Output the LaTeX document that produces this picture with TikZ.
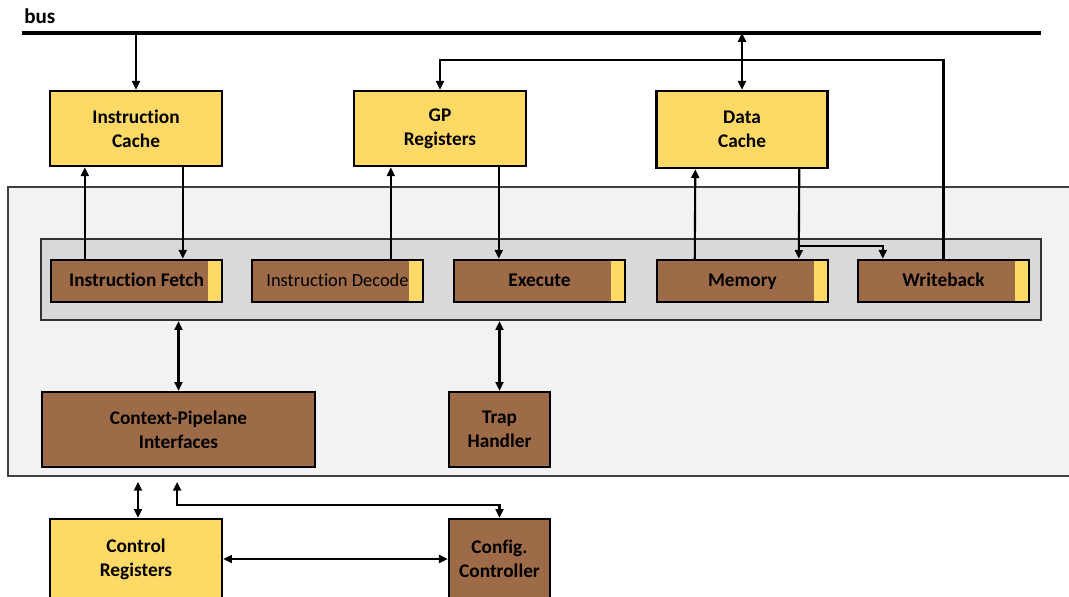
\documentclass[tikz,border=0pt]{standalone}
\usepackage{fontspec}
\setmainfont{Carlito}[Ligatures=NoCommon]
\usetikzlibrary{calc,arrows.meta}
\definecolor{yel}{HTML}{FFD966}
\definecolor{brn}{HTML}{9E6B48}
\definecolor{lgray}{HTML}{F2F2F2}
\definecolor{mgray}{HTML}{D9D9D9}
\tikzset{
 box/.style={draw=black, line width=1.4pt, inner sep=0pt, align=center, font=\bfseries\fontsize{11}{13.6}\selectfont},
 ybox/.style={box, fill=yel},
 bbox/.style={box, fill=brn},
 stagebox/.style={bbox, minimum width=3.42cm, minimum height=0.84cm, text height=0.66em, text depth=0em,
   path picture={\fill[yel] ($(path picture bounding box.north east)+(-0.28cm,0)$) rectangle (path picture bounding box.south east);}},
 arr/.style={line width=1.2pt, -{Triangle[length=5pt,width=4.5pt]}},
 darr/.style={line width=1.2pt, {Triangle[length=5pt,width=4.5pt]}-{Triangle[length=5pt,width=4.5pt]}},
}
\begin{document}
\begin{tikzpicture}[x=0.02cm,y=-0.02cm]
\useasboundingbox (0,0) rectangle (1069,596);
\clip (0,0) rectangle (1069,596);
\fill[white] (0,0) rectangle (1069,596);

% bus
\node[font=\bfseries\fontsize{12}{14}\selectfont, anchor=west, inner sep=0pt] (bus) at (24,16) {bus};
\coordinate (busL) at (22,33);
\coordinate (busR) at (1041,33);
\draw[line width=2.2pt] (busL) -- (busR);
\coordinate (fb) at (0,60);

% background boxes
\node[draw=black!75, line width=1.1pt, fill=lgray, minimum width=21.54cm, minimum height=5.78cm, inner sep=0pt] (outer) at (546.5,331.5) {};
\node[draw=black!80, line width=1.3pt, fill=mgray, minimum width=20cm, minimum height=1.62cm, inner sep=0pt] (pipe) at (541,279.5) {};

% top boxes
\node[ybox, minimum width=3.44cm, minimum height=1.5cm] (ic) at (136,128.5) {Instruction\\Cache};
\node[ybox, minimum width=3.44cm, minimum height=1.5cm] (gp) at (440,128.5) {GP\\Registers};
\node[ybox, minimum width=3.42cm, minimum height=1.54cm] (dc) at (742,129.5) {Data\\Cache};

% stages
\node[stagebox] (ifs) at (136.5,281) {Instruction Fetch};
\node[stagebox, font=\mdseries\fontsize{10.5}{12}\selectfont] (ids) at (337.5,281) {Instruction Decode};
\node[stagebox] (exs) at (539.5,281) {Execute};
\node[stagebox] (mems) at (742.5,281) {Memory};
\node[stagebox] (wbs) at (943.5,281) {Writeback};

% lower boxes
\node[bbox, minimum width=5.46cm, minimum height=1.5cm] (ctx) at (178.5,429.5) {Context-Pipelane\\Interfaces};
\node[bbox, minimum width=2.02cm, minimum height=1.5cm] (trap) at (499.5,429.5) {Trap\\Handler};
\node[ybox, minimum width=3.44cm, minimum height=1.6cm] (creg) at (136,559) {Control\\Registers};
\node[bbox, minimum width=2.02cm, minimum height=1.6cm] (cfg) at (499.5,559) {Config.\\Controller};

% connectors
\draw[arr] (ic.north |- busL) -- (ic.north);
\draw[darr] (dc.north |- busL) -- (dc.north);
\draw[arr] ($(ifs.north west)+(35,0)$) -- ($(ic.south west)+(36,0)$);
\draw[arr] ($(ic.south west)+(134,0)$) -- ($(ifs.north west)+(133,0)$);
\draw[arr] ($(ids.north west)+(140,0)$) -- ($(gp.south west)+(38,0)$);
\draw[arr] ($(gp.south west)+(146,0)$) -- ($(exs.north west)+(46,0)$);
\draw[arr] ($(mems.north west)+(39,0)$) -- ($(dc.south west)+(40,0)$);
\draw[arr] ($(dc.south west)+(144,0)$) -- ($(mems.north west)+(143,0)$);
\draw[arr] ($(mems.north west)+(143,-13)$) -| ($(wbs.north west)+(26,0)$);
\draw[arr] (wbs.north) |- (fb -| gp.north) -- (gp.north);

\draw[darr] (ctx.north |- pipe.south) -- (ctx.north);
\draw[darr] (trap.north |- pipe.south) -- (trap.north);
\draw[darr] ($(creg.north |- outer.south)+(2,5)$) -- ($(creg.north)+(2,0)$);
\draw[darr] ($(outer.south west)+(170,5)$) |- ($(cfg.north)+(0,-13)$) -- (cfg.north);
\draw[darr] (creg.east) -- (cfg.west);
\end{tikzpicture}
\end{document}
